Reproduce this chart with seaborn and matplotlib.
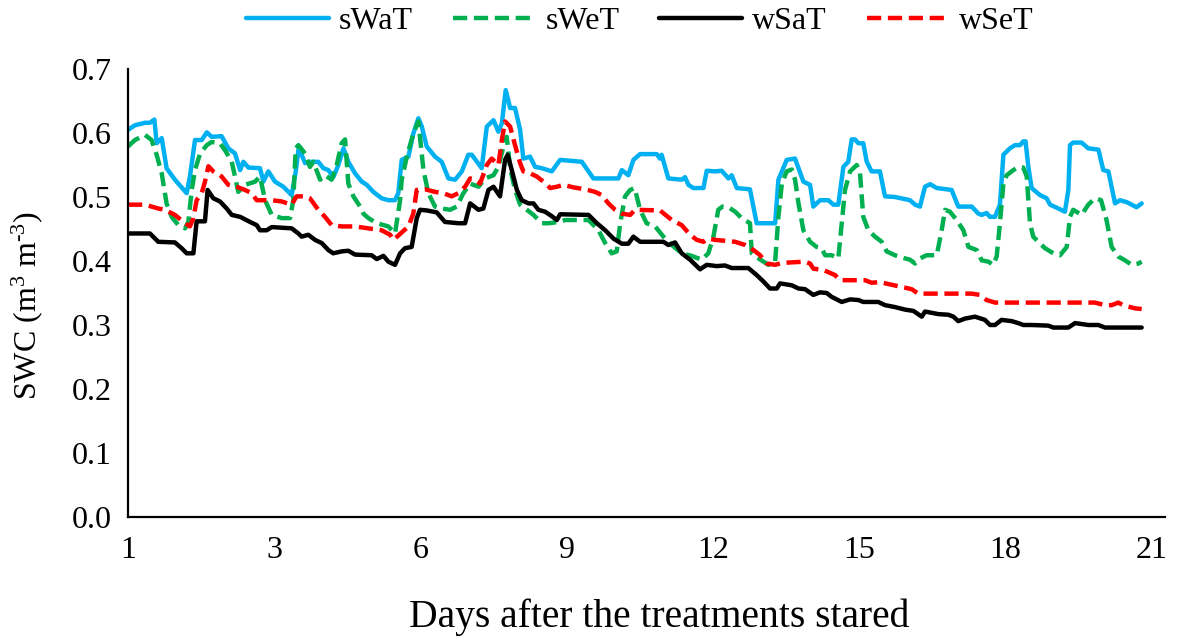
import numpy as np
import pandas as pd
import seaborn as sns
import matplotlib
matplotlib.use("Agg")
import matplotlib.pyplot as plt

# ---------------- data (x = hours after treatments started) ----------------
tick_hours = [0, 72, 144, 216, 288, 360, 432, 504]
tick_labels = ["1", "3", "6", "9", "12", "15", "18", "21"]
y_ticks = [0.0, 0.1, 0.2, 0.3, 0.4, 0.5, 0.6, 0.7]

swat_h = [0, 3.4, 8.4, 10.8, 13.0, 14.1, 16.6, 19.0, 23.1, 28.9, 30.5, 33.0, 36.3, 38.8, 41.2, 46.1,
          49.4, 52.7, 55.2, 56.8, 59.3, 65.0, 66.7, 69.1, 72.4, 76.5, 80.6, 82.6, 84.0, 85.5, 87.2,
          90.5, 93.7, 96.2, 98.7, 101.1, 103.6, 106.1, 108.5, 111.8, 115.1, 117.6, 120.8, 124.9,
          128.2, 131.5, 133.1, 134.8, 138.1, 140.5, 143.0, 144.7, 147.1, 151.2, 154.5, 157.8,
          161.1, 164.4, 167.6, 169.3, 174.2, 176.7, 180.0, 182.4, 184.1, 186.0, 188.2, 190.6,
          193.1, 194.7, 198.0, 200.5, 203.8, 208.7, 212.8, 223.5, 229.2, 241.5, 243.2, 246.4,
          248.9, 252.2, 260.4, 262.0, 262.8, 266.1, 272.7, 274.3, 276.0, 278.4, 283.4, 285.0,
          289.1, 292.4, 295.7, 297.3, 299.8, 306.3, 309.6, 318.7, 320.3, 324.4, 328.5, 332.6,
          335.9, 337.5, 340.8, 344.9, 347.4, 349.8, 352.3, 354.7, 356.4, 358.0, 359.7, 362.1,
          363.8, 366.2, 370.3, 372.8, 377.7, 385.1, 387.6, 390.0, 392.5, 395.0, 398.3, 405.6,
          408.9, 415.5, 418.8, 420.4, 422.8, 424.5, 427.0, 429.4, 431.1, 434.3, 436.8, 439.3,
          440.9, 442.0, 443.4, 445.0, 449.1, 452.4, 454.1, 458.2, 461.4, 463.1, 463.9, 465.5,
          469.6, 472.9, 477.9, 480.3, 482.8, 486.1, 488.5, 491.8, 494.3, 496.7, 499.2]
swat_v = [0.605, 0.612, 0.616, 0.616, 0.621, 0.584, 0.592, 0.545, 0.527, 0.506, 0.532, 0.589, 0.589,
          0.601, 0.594, 0.595, 0.576, 0.568, 0.542, 0.555, 0.546, 0.545, 0.524, 0.540, 0.524, 0.516,
          0.503, 0.540, 0.575, 0.566, 0.553, 0.555, 0.555, 0.545, 0.542, 0.531, 0.550, 0.576, 0.555,
          0.537, 0.524, 0.519, 0.508, 0.498, 0.495, 0.495, 0.506, 0.558, 0.563, 0.599, 0.623, 0.610,
          0.579, 0.563, 0.555, 0.529, 0.527, 0.540, 0.566, 0.566, 0.545, 0.610, 0.620, 0.602, 0.615,
          0.667, 0.639, 0.639, 0.605, 0.560, 0.563, 0.547, 0.545, 0.540, 0.558, 0.555, 0.529, 0.529,
          0.542, 0.534, 0.558, 0.567, 0.567, 0.560, 0.566, 0.529, 0.527, 0.531, 0.519, 0.514, 0.514,
          0.541, 0.540, 0.541, 0.529, 0.534, 0.514, 0.512, 0.459, 0.459, 0.527, 0.558, 0.560, 0.524,
          0.519, 0.485, 0.495, 0.495, 0.488, 0.488, 0.547, 0.555, 0.590, 0.590, 0.584, 0.584, 0.555,
          0.540, 0.540, 0.501, 0.500, 0.495, 0.488, 0.485, 0.516, 0.520, 0.514, 0.511, 0.485, 0.485,
          0.474, 0.472, 0.475, 0.469, 0.469, 0.488, 0.566, 0.576, 0.581, 0.581, 0.587, 0.587, 0.547,
          0.514, 0.503, 0.498, 0.488, 0.482, 0.477, 0.511, 0.581, 0.585, 0.585, 0.576, 0.574, 0.542,
          0.540, 0.490, 0.495, 0.492, 0.488, 0.484, 0.490]

swet_h = [0, 3.4, 8.4, 11.6, 14.1, 16.6, 19.0, 21.5, 24.8, 28.1, 29.7, 31.4, 33.0, 35.5, 38.8, 41.2,
          45.3, 47.8, 51.1, 54.3, 57.6, 62.6, 65.0, 67.5, 70.8, 75.7, 79.8, 81.4, 82.6, 83.9, 87.2,
          89.6, 91.3, 94.6, 97.0, 100.3, 102.8, 105.2, 106.9, 108.5, 111.0, 114.3, 115.9, 118.4,
          122.5, 128.2, 131.5, 134.0, 134.8, 137.3, 140.5, 143.0, 145.5, 147.9, 151.2, 154.5,
          158.6, 161.9, 165.0, 168.5, 172.6, 175.9, 180.0, 182.4, 184.9, 186.5, 188.2, 190.6,
          193.1, 196.4, 199.7, 203.8, 207.0, 212.0, 215.3, 226.8, 231.7, 235.0, 238.2, 240.7,
          242.4, 244.8, 247.3, 249.5, 252.2, 255.4, 259.6, 263.7, 267.8, 272.7, 277.6, 282.5,
          285.8, 288.3, 290.7, 292.7, 295.7, 299.0, 302.2, 306.3, 307.2, 310.5, 315.4, 318.7,
          320.3, 322.0, 324.4, 326.9, 328.5, 330.2, 332.6, 335.9, 339.1, 341.6, 343.3, 346.5,
          349.8, 351.5, 353.1, 355.6, 358.9, 360.5, 362.1, 364.6, 367.9, 371.2, 373.6, 377.7,
          382.7, 385.1, 387.6, 390.0, 393.3, 398.3, 400.7, 402.4, 404.8, 408.1, 411.4, 413.9,
          418.0, 420.4, 423.7, 426.1, 427.8, 429.4, 431.1, 432.7, 436.0, 438.4, 440.9, 442.6,
          444.2, 445.8, 448.3, 451.6, 455.7, 459.0, 462.3, 463.9, 465.5, 469.6, 472.9, 476.2,
          479.2, 481.9, 484.4, 487.7, 491.0, 494.3, 497.6, 499.2]
swet_v = [0.579, 0.589, 0.597, 0.589, 0.566, 0.537, 0.490, 0.469, 0.456, 0.451, 0.461, 0.511, 0.542,
          0.568, 0.581, 0.586, 0.584, 0.573, 0.555, 0.508, 0.519, 0.524, 0.532, 0.495, 0.472, 0.467,
          0.467, 0.495, 0.576, 0.581, 0.568, 0.547, 0.555, 0.527, 0.534, 0.527, 0.550, 0.584, 0.590,
          0.521, 0.501, 0.485, 0.474, 0.467, 0.459, 0.454, 0.443, 0.495, 0.527, 0.563, 0.599, 0.618,
          0.542, 0.506, 0.485, 0.482, 0.480, 0.485, 0.505, 0.521, 0.516, 0.529, 0.534, 0.547, 0.579,
          0.594, 0.545, 0.511, 0.488, 0.480, 0.472, 0.459, 0.459, 0.461, 0.464, 0.464, 0.448, 0.428,
          0.412, 0.415, 0.459, 0.501, 0.511, 0.514, 0.480, 0.459, 0.454, 0.438, 0.425, 0.412, 0.408,
          0.402, 0.412, 0.438, 0.480, 0.485, 0.484, 0.477, 0.467, 0.459, 0.412, 0.404, 0.394, 0.399,
          0.469, 0.521, 0.540, 0.543, 0.527, 0.490, 0.448, 0.430, 0.422, 0.420, 0.409, 0.409, 0.404,
          0.459, 0.511, 0.540, 0.550, 0.537, 0.469, 0.448, 0.438, 0.430, 0.415, 0.409, 0.404, 0.402,
          0.396, 0.404, 0.409, 0.409, 0.448, 0.480, 0.477, 0.464, 0.448, 0.422, 0.417, 0.401, 0.399,
          0.394, 0.407, 0.459, 0.521, 0.534, 0.542, 0.547, 0.546, 0.532, 0.459, 0.438, 0.430, 0.420,
          0.412, 0.409, 0.422, 0.469, 0.480, 0.472, 0.488, 0.498, 0.495, 0.464, 0.422, 0.407, 0.401,
          0.394, 0.396, 0.399]

wsat_h = [0, 10.8, 13.3, 14.9, 23.1, 26.4, 28.9, 32.2, 33.8, 37.9, 39.2, 42.0, 45.3, 48.6, 51.1,
          55.2, 60.1, 63.4, 65.0, 68.3, 70.8, 80.6, 83.9, 85.5, 88.8, 92.1, 95.4, 98.7, 101.1,
          105.2, 108.5, 111.8, 120.0, 122.5, 125.8, 128.2, 131.5, 134.0, 136.4, 139.7, 142.2,
          143.8, 147.1, 152.0, 156.1, 162.7, 166.0, 168.5, 172.6, 175.0, 177.5, 180.0, 183.2,
          185.7, 187.0, 189.0, 191.5, 193.9, 197.2, 199.7, 202.1, 205.4, 208.7, 211.2, 212.8,
          226.8, 230.9, 235.0, 239.1, 243.2, 246.4, 248.9, 252.2, 263.7, 266.1, 269.4, 272.7,
          276.8, 281.7, 285.0, 289.9, 294.0, 297.3, 305.5, 309.6, 312.9, 316.2, 319.5, 321.1,
          326.9, 330.2, 333.4, 337.5, 340.8, 344.1, 346.5, 351.5, 355.6, 359.7, 362.1, 369.5,
          372.8, 377.7, 382.7, 386.8, 390.9, 392.5, 399.1, 404.0, 406.5, 408.9, 412.2, 417.1,
          422.0, 424.5, 427.0, 430.2, 435.2, 438.4, 440.9, 445.0, 453.2, 455.7, 463.1, 466.4,
          472.9, 477.9, 481.1, 499.2]
wsat_v = [0.443, 0.443, 0.435, 0.430, 0.429, 0.420, 0.412, 0.412, 0.462, 0.462, 0.511, 0.498, 0.493,
          0.482, 0.472, 0.469, 0.461, 0.456, 0.448, 0.448, 0.453, 0.451, 0.443, 0.438, 0.441, 0.433,
          0.428, 0.417, 0.412, 0.415, 0.416, 0.410, 0.409, 0.403, 0.408, 0.399, 0.394, 0.412, 0.420,
          0.422, 0.467, 0.480, 0.479, 0.476, 0.461, 0.459, 0.459, 0.490, 0.480, 0.482, 0.511, 0.516,
          0.501, 0.558, 0.566, 0.542, 0.511, 0.495, 0.490, 0.490, 0.480, 0.477, 0.470, 0.464, 0.473,
          0.472, 0.459, 0.448, 0.435, 0.427, 0.427, 0.438, 0.430, 0.430, 0.425, 0.429, 0.412, 0.402,
          0.387, 0.394, 0.392, 0.393, 0.389, 0.389, 0.378, 0.368, 0.357, 0.357, 0.365, 0.362, 0.357,
          0.356, 0.347, 0.351, 0.350, 0.344, 0.336, 0.340, 0.339, 0.336, 0.336, 0.331, 0.328, 0.324,
          0.322, 0.313, 0.321, 0.317, 0.316, 0.313, 0.306, 0.310, 0.313, 0.308, 0.300, 0.300, 0.308,
          0.306, 0.303, 0.300, 0.300, 0.299, 0.296, 0.296, 0.303, 0.300, 0.300, 0.296, 0.296]

wset_h = [0, 8.4, 14.9, 18.2, 23.1, 27.3, 30.5, 32.2, 33.8, 36.3, 37.9, 39.6, 42.0, 46.1, 49.4,
          53.5, 57.6, 60.9, 63.4, 70.8, 75.7, 80.6, 83.0, 87.2, 89.6, 93.7, 97.0, 100.3, 105.2,
          111.8, 118.4, 124.9, 129.1, 130.7, 133.2, 138.1, 140.5, 142.2, 146.3, 151.2, 155.3,
          159.4, 162.7, 166.0, 168.5, 170.9, 173.4, 176.7, 179.1, 182.4, 184.1, 185.7, 188.2,
          190.6, 193.1, 194.7, 198.0, 201.3, 204.6, 207.9, 211.2, 214.4, 219.4, 225.1, 230.0,
          233.3, 236.6, 239.9, 243.2, 247.3, 249.7, 262.0, 267.8, 272.7, 276.8, 280.1, 283.4,
          285.8, 289.1, 299.0, 303.9, 308.1, 311.3, 314.6, 318.7, 322.0, 333.4, 335.9, 337.5,
          342.4, 348.2, 350.6, 363.0, 366.2, 370.3, 374.4, 380.2, 385.9, 389.2, 415.5, 419.6,
          422.8, 427.0, 476.2, 481.1, 484.4, 487.7, 490.0, 495.9, 499.2]
wset_v = [0.488, 0.488, 0.482, 0.480, 0.472, 0.461, 0.454, 0.467, 0.495, 0.506, 0.524, 0.548, 0.540,
          0.532, 0.519, 0.516, 0.511, 0.506, 0.495, 0.495, 0.493, 0.488, 0.501, 0.501, 0.498, 0.480,
          0.469, 0.456, 0.454, 0.454, 0.451, 0.448, 0.441, 0.433, 0.440, 0.454, 0.474, 0.511, 0.512,
          0.508, 0.506, 0.501, 0.506, 0.516, 0.529, 0.527, 0.521, 0.550, 0.560, 0.550, 0.589, 0.618,
          0.610, 0.581, 0.553, 0.540, 0.537, 0.532, 0.524, 0.514, 0.516, 0.519, 0.515, 0.512, 0.508,
          0.503, 0.490, 0.480, 0.474, 0.472, 0.480, 0.479, 0.464, 0.456, 0.441, 0.433, 0.430, 0.435,
          0.433, 0.430, 0.425, 0.417, 0.409, 0.396, 0.394, 0.397, 0.399, 0.396, 0.388, 0.386, 0.378,
          0.370, 0.370, 0.366, 0.367, 0.364, 0.360, 0.356, 0.349, 0.349, 0.347, 0.339, 0.335, 0.335,
          0.331, 0.331, 0.335, 0.331, 0.326, 0.325]

series = [
    ("sWaT", swat_h, swat_v, "#00B0F0", "-"),
    ("sWeT", swet_h, swet_v, "#00B050", (0, (3.2, 1.5))),
    ("wSaT", wsat_h, wsat_v, "#000000", "-"),
    ("wSeT", wset_h, wset_v, "#FF0000", (0, (3.2, 1.5))),
]

# ---------------- plotting ----------------
sns.set_style("white")
plt.rcParams["font.family"] = ["Liberation Serif", "DejaVu Serif"]
plt.rcParams["mathtext.fontset"] = "custom"
plt.rcParams["mathtext.rm"] = "Liberation Serif"
plt.rcParams["mathtext.it"] = "Liberation Serif:italic"
plt.rcParams["text.color"] = "black"
plt.rcParams["axes.labelcolor"] = "black"
plt.rcParams["xtick.color"] = "black"
plt.rcParams["ytick.color"] = "black"

fig = plt.figure(figsize=(11.83, 6.40), dpi=100)
ax = fig.add_axes([0.1082, 0.1922, 0.8766, 0.7000])

for name, h, v, color, ls in series:
    df = pd.DataFrame({"hours": h, "swc": v})
    sns.lineplot(data=df, x="hours", y="swc", ax=ax, color=color, linestyle=ls,
                 linewidth=3.2, estimator=None, label=name)

ax.set_xlim(0, 510.7)
ax.set_ylim(0, 0.7)
ax.set_xticks(tick_hours)
ax.set_xticklabels(tick_labels)
ax.set_yticks(y_ticks)
ax.set_yticklabels([f"{t:.1f}" for t in y_ticks])

for side in ["top", "right"]:
    ax.spines[side].set_visible(False)
for side in ["left", "bottom"]:
    ax.spines[side].set_color("black")
    ax.spines[side].set_linewidth(1.6)

ax.tick_params(axis="x", direction="in", length=8, width=1.3, pad=14, labelsize=23,
               colors="black")
ax.tick_params(axis="y", direction="out", length=6, width=1.3, pad=6, labelsize=23,
               colors="black")
ax.grid(False)

ax.set_xlabel("Days after the treatments stared", fontsize=28.5, color="black", va="center")
ax.xaxis.set_label_coords(0.512, -0.223)
ax.set_ylabel("SWC (m$^{3}$ m$^{\u2010 3}$)", fontsize=23, color="black", va="center")
ax.yaxis.set_label_coords(-0.097, 0.473)

leg = ax.legend(loc="center", bbox_to_anchor=(0.541, 0.966), bbox_transform=fig.transFigure,
                ncol=4, frameon=False, fontsize=23, handlelength=2.6, handletextpad=0.3,
                columnspacing=1.25)
for t in leg.get_texts():
    t.set_color("black")

fig.savefig("out.png", dpi=100)
